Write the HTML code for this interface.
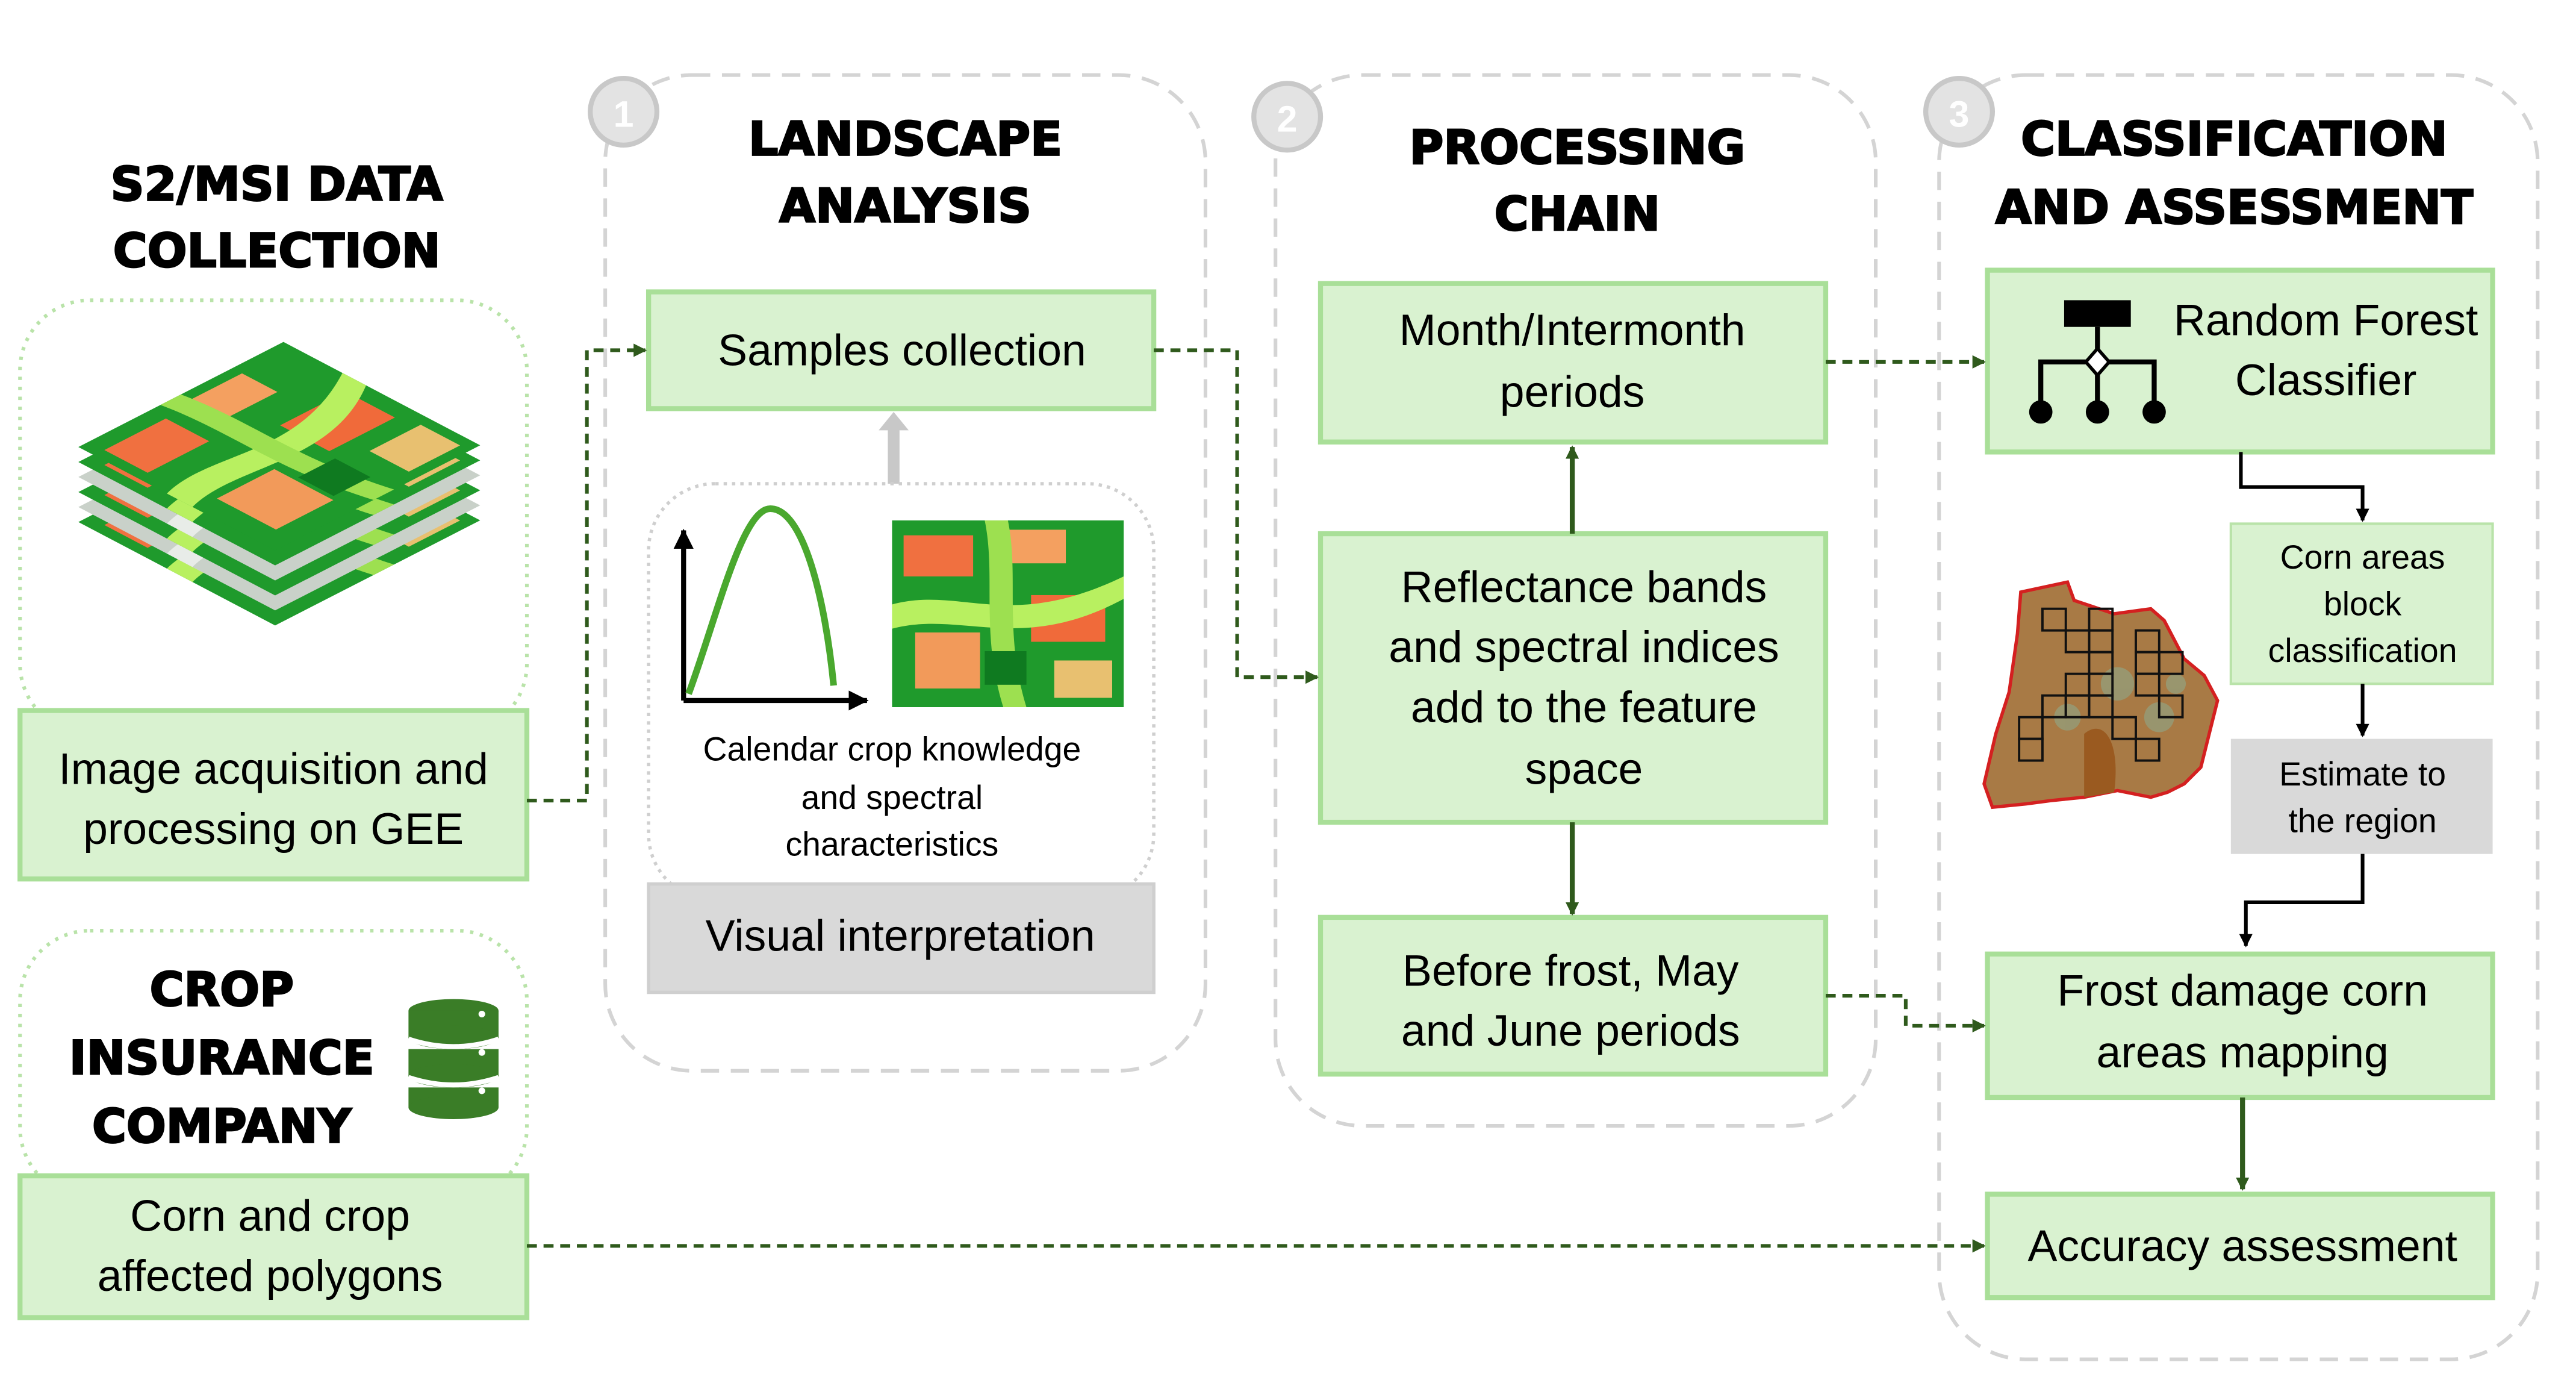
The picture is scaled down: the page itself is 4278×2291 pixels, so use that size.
<!DOCTYPE html>
<html><head><meta charset="utf-8"><style>
html,body{margin:0;padding:0;background:#fff}
svg{display:block}
text{font-family:"Liberation Sans",sans-serif;fill:#000}
.h{font-family:"DejaVu Sans","Liberation Sans",sans-serif;font-weight:bold;font-size:28px;text-anchor:middle;stroke:#000;stroke-width:1px}
.t{font-size:26.5px;text-anchor:middle}
.s{font-size:20px;text-anchor:middle}
.box{fill:#d9f2d0;stroke:#a9df98;stroke-width:3}
.gbox{fill:#d9d9d9;stroke:#cfcfcf;stroke-width:2}
.grp{fill:none;stroke:#d4d4d4;stroke-width:2.2;stroke-dasharray:11 7}
.dot{fill:none;stroke:#b9e3a9;stroke-width:2.2;stroke-dasharray:2 4}
.con{fill:none;stroke:#2f5a1c;stroke-width:2.2;stroke-dasharray:6 4}
.sol{fill:none;stroke:#2f5a1c;stroke-width:3}
.blk{fill:none;stroke:#000;stroke-width:2.2}
</style></head><body>
<svg width="4278" height="2291" viewBox="0 0 1545 827.4" preserveAspectRatio="none" xmlns="http://www.w3.org/2000/svg">
<defs>
<marker id="ag" markerWidth="8" markerHeight="8" refX="7" refY="4" orient="auto" markerUnits="userSpaceOnUse"><path d="M0,0 L8,4 L0,8z" fill="#2f5a1c"/></marker>
<marker id="ab" markerWidth="8" markerHeight="8" refX="7" refY="4" orient="auto" markerUnits="userSpaceOnUse"><path d="M0,0 L8,4 L0,8z" fill="#000"/></marker>
<marker id="ak" markerWidth="12" markerHeight="12" refX="11" refY="6" orient="auto" markerUnits="userSpaceOnUse"><path d="M0,0 L12,6 L0,12z" fill="#000"/></marker>
<g id="tex">
<rect x="0" y="0" width="100" height="100" fill="#1f9a2c"/>
<rect x="5" y="8" width="30" height="22" fill="#f07040"/>
<rect x="50" y="5" width="25" height="18" fill="#f4a060"/>
<rect x="60" y="40" width="32" height="25" fill="#f06a3a"/>
<rect x="10" y="60" width="28" height="30" fill="#f29a5a"/>
<rect x="70" y="75" width="25" height="20" fill="#e8c070"/>
<path d="M0,45 C30,35 50,60 100,30 L100,42 C55,72 30,48 0,58z" fill="#b8f060"/>
<path d="M40,0 C45,30 38,60 48,100 L58,100 C48,60 55,30 50,0z" fill="#9de050"/>
<rect x="40" y="70" width="18" height="18" fill="#0f7a20"/>
</g>
<g id="gray">
<rect x="0" y="0" width="100" height="100" fill="#c9d1c9"/>
<path d="M0,45 C30,35 50,60 100,30 L100,42 C55,72 30,48 0,58z" fill="#e8ece8"/>
<rect x="10" y="10" width="30" height="25" fill="#b0bab0"/>
<rect x="60" y="60" width="30" height="25" fill="#dfd6cf"/>
</g>
</defs>

<!-- Column 0 -->
<text class="h" x="166" y="120">S2/MSI DATA</text>
<text class="h" x="166" y="160">COLLECTION</text>
<rect class="dot" x="12" y="180" width="304" height="260" rx="42"/>
<g>
<g transform="matrix(1.23,-0.63,1.18,0.62,47,313)"><use href="#tex"/></g>
<g transform="matrix(1.23,-0.63,1.18,0.62,47,304)"><use href="#gray"/></g>
<g transform="matrix(1.23,-0.63,1.18,0.62,47,295)"><use href="#tex"/></g>
<g transform="matrix(1.23,-0.63,1.18,0.62,47,286)"><use href="#gray"/></g>
<g transform="matrix(1.23,-0.63,1.18,0.62,47,277)"><use href="#tex"/></g>
<g transform="matrix(1.23,-0.63,1.18,0.62,47,268)"><use href="#tex"/></g>
</g>
<rect class="box" x="12" y="426" width="304" height="101"/>
<text class="t" x="164" y="470">Image acquisition and</text>
<text class="t" x="164" y="506">processing on GEE</text>

<rect class="dot" x="12" y="558" width="304" height="160" rx="42"/>
<text class="h" x="133" y="603">CROP</text>
<text class="h" x="133" y="644">INSURANCE</text>
<text class="h" x="133" y="685">COMPANY</text>
<g fill="#3a7d27">
<ellipse cx="272" cy="606" rx="27" ry="7"/>
<rect x="245" y="606" width="54" height="16"/>
<ellipse cx="272" cy="622" rx="27" ry="7"/>
<rect x="245" y="629" width="54" height="16"/>
<ellipse cx="272" cy="645" rx="27" ry="7"/>
<rect x="245" y="652" width="54" height="12"/>
<ellipse cx="272" cy="664" rx="27" ry="7"/>
</g>
<path d="M245,623 Q272,632 299,623 M245,646 Q272,655 299,646" stroke="#fff" stroke-width="3" fill="none"/>
<circle cx="289" cy="631" r="2" fill="#fff"/><circle cx="289" cy="654" r="2" fill="#fff"/><circle cx="289" cy="608" r="2" fill="#fff"/>
<rect class="box" x="12" y="705" width="304" height="85"/>
<text class="t" x="162" y="738">Corn and crop</text>
<text class="t" x="162" y="774">affected polygons</text>

<!-- Group 1 -->
<rect class="grp" x="363" y="45" width="360" height="597" rx="52"/>
<circle cx="374" cy="67" r="20" fill="#e3e3e3" stroke="#c8c8c8" stroke-width="3"/>
<text x="374" y="76" font-size="22" font-weight="bold" text-anchor="middle" style="fill:#fff">1</text>
<text class="h" x="543" y="93">LANDSCAPE</text>
<text class="h" x="543" y="133">ANALYSIS</text>
<rect class="box" x="389" y="175" width="303" height="70"/>
<text class="t" x="541" y="219">Samples collection</text>
<path d="M536,290 L536,256" stroke="#c8c8c8" stroke-width="7"/>
<path d="M527,258 L536,247 L545,258z" fill="#c8c8c8"/>
<rect x="389" y="290" width="303" height="250" rx="40" fill="none" stroke="#cfcfcf" stroke-width="2" stroke-dasharray="2 3"/>
<path d="M410,420 L410,318" stroke="#000" stroke-width="3" marker-end="url(#ak)"/>
<path d="M410,420 L520,420" stroke="#000" stroke-width="3" marker-end="url(#ak)"/>
<path d="M413,416 C430,370 445,305 462,305 C482,305 495,360 500,411" stroke="#4aa82e" stroke-width="4" fill="none"/>
<svg x="535" y="312" width="139" height="112" viewBox="0 0 100 100" preserveAspectRatio="none"><use href="#tex"/></svg>
<text class="s" x="535" y="456">Calendar crop knowledge</text>
<text class="s" x="535" y="485">and spectral</text>
<text class="s" x="535" y="513">characteristics</text>
<rect class="gbox" x="389" y="530" width="303" height="65"/>
<text class="t" x="540" y="570">Visual interpretation</text>

<!-- Group 2 -->
<rect class="grp" x="765" y="45" width="360" height="630" rx="52"/>
<circle cx="772" cy="70" r="20" fill="#e3e3e3" stroke="#c8c8c8" stroke-width="3"/>
<text x="772" y="79" font-size="22" font-weight="bold" text-anchor="middle" style="fill:#fff">2</text>
<text class="h" x="946" y="98">PROCESSING</text>
<text class="h" x="946" y="138">CHAIN</text>
<rect class="box" x="792" y="170" width="303" height="95"/>
<text class="t" x="943" y="207">Month/Intermonth</text>
<text class="t" x="943" y="244">periods</text>
<rect class="box" x="792" y="320" width="303" height="173"/>
<text class="t" x="950" y="361">Reflectance bands</text>
<text class="t" x="950" y="397">and spectral indices</text>
<text class="t" x="950" y="433">add to the feature</text>
<text class="t" x="950" y="470">space</text>
<rect class="box" x="792" y="550" width="303" height="94"/>
<text class="t" x="942" y="591">Before frost, May</text>
<text class="t" x="942" y="627">and June periods</text>
<path class="sol" d="M943,320 L943,268" marker-end="url(#ag)"/>
<path class="sol" d="M943,493 L943,548" marker-end="url(#ag)"/>

<!-- Group 3 -->
<rect class="grp" x="1163" y="45" width="359" height="770" rx="52"/>
<circle cx="1175" cy="67" r="20" fill="#e3e3e3" stroke="#c8c8c8" stroke-width="3"/>
<text x="1175" y="76" font-size="22" font-weight="bold" text-anchor="middle" style="fill:#fff">3</text>
<text class="h" x="1340" y="93">CLASSIFICATION</text>
<text class="h" x="1340" y="134">AND ASSESSMENT</text>
<rect class="box" x="1192" y="162" width="303" height="109"/>
<rect x="1238" y="180" width="40" height="16" fill="#000"/>
<path d="M1258,196 L1258,210 M1224,244 L1224,217 L1251,217 M1265,217 L1292,217 L1292,244 M1258,224 L1258,244" stroke="#000" stroke-width="3" fill="none"/>
<path d="M1258,209 L1265,217 L1258,225 L1251,217z" fill="#fff" stroke="#000" stroke-width="2"/>
<circle cx="1224" cy="247" r="7"/><circle cx="1258" cy="247" r="7"/><circle cx="1292" cy="247" r="7"/>
<text class="t" x="1395" y="201">Random Forest</text>
<text class="t" x="1395" y="237">Classifier</text>
<path class="blk" d="M1344,271 L1344,292 L1417,292 L1417,312" marker-end="url(#ab)"/>
<rect x="1338" y="314" width="157" height="96" fill="#d9f2d0" stroke="#b9e3a9" stroke-width="1.5"/>
<text class="s" x="1417" y="341">Corn areas</text>
<text class="s" x="1417" y="369">block</text>
<text class="s" x="1417" y="397">classification</text>
<path class="blk" d="M1417,410 L1417,441" marker-end="url(#ab)"/>
<rect x="1338" y="443" width="157" height="69" fill="#d9d9d9"/>
<text class="s" x="1417" y="471">Estimate to</text>
<text class="s" x="1417" y="499">the region</text>
<path class="blk" d="M1417,512 L1417,541 L1347,541 L1347,567" marker-end="url(#ab)"/>
<!-- map -->
<path d="M1212,355 L1240,349 L1244,360 L1268,368 L1290,365 L1298,372 L1310,395 L1322,405 L1330,420 L1325,440 L1320,460 L1310,470 L1300,475 L1290,478 L1270,474 L1250,478 L1230,480 L1215,482 L1195,484 L1190,470 L1197,440 L1205,415 L1210,380z" fill="#a87a45" stroke="#d42020" stroke-width="2"/>
<path d="M1250,440 C1262,430 1272,445 1268,475 L1250,478z" fill="#9a5a20"/>
<g fill="#8fa88a" opacity="0.6"><circle cx="1270" cy="410" r="10"/><circle cx="1295" cy="430" r="9"/><circle cx="1240" cy="430" r="8"/><circle cx="1305" cy="410" r="6"/></g>
<g fill="none" stroke="#111" stroke-width="1.4">
<rect x="1225" y="365" width="14" height="13"/><rect x="1239" y="378" width="14" height="13"/><rect x="1253" y="365" width="14" height="13"/><rect x="1253" y="378" width="14" height="13"/><rect x="1253" y="391" width="14" height="13"/>
<rect x="1239" y="404" width="14" height="13"/><rect x="1253" y="404" width="14" height="13"/><rect x="1225" y="417" width="14" height="13"/><rect x="1239" y="417" width="14" height="13"/><rect x="1253" y="417" width="14" height="13"/>
<rect x="1211" y="430" width="14" height="13"/><rect x="1211" y="443" width="14" height="13"/><rect x="1267" y="430" width="14" height="13"/><rect x="1281" y="443" width="14" height="13"/>
<rect x="1281" y="378" width="14" height="13"/><rect x="1295" y="391" width="14" height="13"/><rect x="1281" y="404" width="14" height="13"/><rect x="1295" y="417" width="14" height="13"/><rect x="1281" y="391" width="14" height="13"/>
</g>
<rect class="box" x="1192" y="572" width="303" height="86"/>
<text class="t" x="1345" y="603">Frost damage corn</text>
<text class="t" x="1345" y="640">areas mapping</text>
<path class="sol" d="M1345,658 L1345,713" marker-end="url(#ag)"/>
<rect class="box" x="1192" y="716" width="303" height="62"/>
<text class="t" x="1345" y="756">Accuracy assessment</text>

<!-- Connectors -->
<path class="con" d="M316,480 L352,480 L352,210 L387,210" marker-end="url(#ag)"/>
<path class="con" d="M692,210 L742,210 L742,406 L790,406" marker-end="url(#ag)"/>
<path class="con" d="M1095,217 L1190,217" marker-end="url(#ag)"/>
<path class="con" d="M1095,597 L1143,597 L1143,615 L1190,615" marker-end="url(#ag)"/>
<path class="con" d="M316,747 L1190,747" marker-end="url(#ag)"/>
</svg>
</body></html>
